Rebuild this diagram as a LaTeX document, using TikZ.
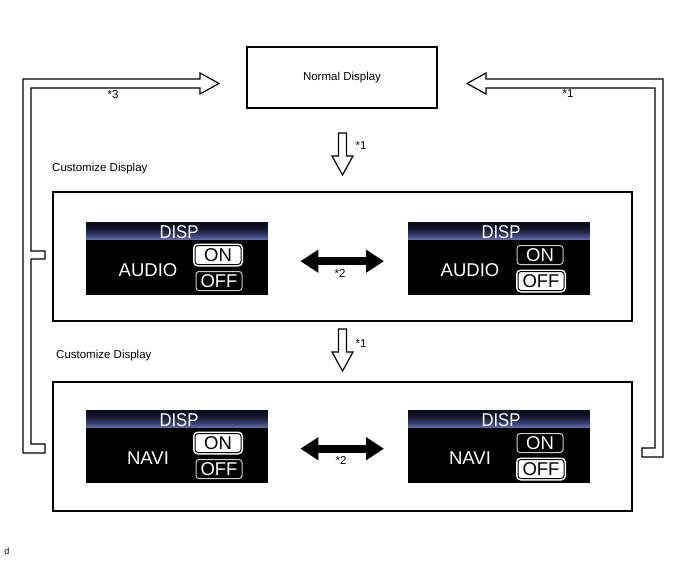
\documentclass[tikz,border=0pt]{standalone}
\usepackage{fontspec}
\setmainfont{Liberation Sans}
\usetikzlibrary{arrows.meta,calc}
\definecolor{bandtop}{RGB}{10,12,28}
\definecolor{bandbot}{RGB}{92,104,175}

\begin{document}
\begin{tikzpicture}[
  x=1pt, y=-1pt,
  font=\fontsize{11.5}{13}\selectfont,
  bx/.style={draw, line width=1.2pt, inner sep=0pt},
  pipe/.style={draw, line width=1.2pt, fill=white, line join=miter},
  dbl/.style={line width=8pt, {Triangle[length=18pt,width=22pt]}-{Triangle[length=18pt,width=22pt]}},
  note/.style={inner sep=0pt},
  scr/.style={fill=black, minimum width=182pt, minimum height=73pt, inner sep=0pt, anchor=north west},
  scrtxt/.style={text=white, font=\fontsize{18.5}{18}\selectfont, inner sep=0pt},
  btn/.style={scrtxt, rounded corners=3pt, line width=1pt, minimum width=46pt, minimum height=19pt},
  sel/.style={btn, fill=white, draw=black, text=black, preaction={draw=white, line width=4pt}},
  uns/.style={btn, fill=black, draw=white!80!black}
]
\fill[white] (0,0) rectangle (688,560);
\useasboundingbox (0,0) rectangle (688,560);

% boxes
\node[bx, minimum width=190pt, minimum height=61pt] (normal) at (342,77.5) {Normal Display};
\node[note, anchor=west] (lbl1) at (52,169) {Customize Display};
\node[bx, minimum width=579pt, minimum height=129pt] (cust1) at (342.5,256.5) {};
\node[note, anchor=west] (lbl2) at (56,356) {Customize Display};
\node[bx, minimum width=579pt, minimum height=129pt] (cust2) at (342.5,446.5) {};

% screens
\foreach \sx/\sy/\lab/\onst/\offst/\nm in {86/222/AUDIO/sel/uns/a, 408/222/AUDIO/uns/sel/b,
    86/410/NAVI/sel/uns/c, 408/410/NAVI/uns/sel/d}{
  \node[scr] (scr\nm) at (\sx,\sy) {};
  \foreach \i in {0,...,17}{
    \pgfmathsetmacro\p{(\i/17)^2*100}
    \fill[bandbot!\p!bandtop] (\sx,\sy+\i) rectangle (\sx+182,\sy+\i+1.2);
  }
  \node[scrtxt] (disp\nm) at (\sx+93,\sy+10) {\scalebox{0.9}[1]{DISP}};
  \node[scrtxt] (lab\nm) at (\sx+62,\sy+48) {\lab};
  \node[\onst] (on\nm) at (\sx+132,\sy+33) {ON};
  \node[\offst] (off\nm) at (\sx+133,\sy+59) {OFF};
}

% return pipes
\draw[pipe] (23,453) -- (23,79) -- (200,79) -- (200,73) -- (219,83.5) -- (200,94) -- (200,88)
  -- (31,88) -- (31,251) -- (45,251) -- (45,259) -- (31,259) -- (31,444) -- (45,444) -- (45,453) -- cycle;
\draw[pipe] (467,83.5) -- (486,73) -- (486,79) -- (663,79) -- (663,457) -- (642,457) -- (642,448)
  -- (655,448) -- (655,88) -- (486,88) -- (486,94) -- cycle;
\node[note] (k3) at (113,95) {*3};
\node[note] (k1r) at (568,94) {*1};

% down arrows
\draw[pipe] (338.5,133) -- (338.5,156) -- (332,156) -- (342.5,175) -- (353,156) -- (346.5,156) -- (346.5,133) -- cycle;
\draw[pipe, shift={(0,196)}] (338.5,133) -- (338.5,156) -- (332,156) -- (342.5,175) -- (353,156) -- (346.5,156) -- (346.5,133) -- cycle;
\node[note] (k1a) at (361,146) {*1};
\node[note] (k1b) at (361,344) {*1};

% toggles
\draw[dbl] ($(scra.east)+(32,2.5)$) -- ($(scrb.west)+(-24,2.5)$);
\draw[dbl] ($(scrc.east)+(32,2)$) -- ($(scrd.west)+(-24,2)$);
\node[note] (k2a) at (340,273) {*2};
\node[note] (k2b) at (341,460) {*2};

\node[note, font=\fontsize{9}{9}\selectfont] (fig) at (7,551) {d};
\end{tikzpicture}
\end{document}
